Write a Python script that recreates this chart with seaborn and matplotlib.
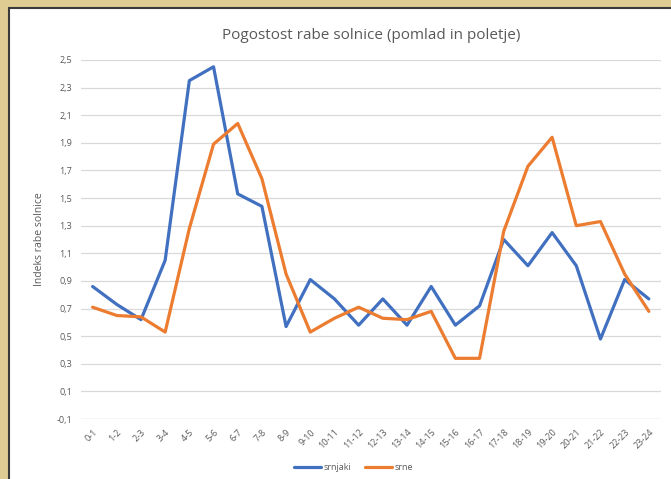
import numpy as np
import pandas as pd
import seaborn as sns
from matplotlib import pyplot as plt
from matplotlib.patches import Rectangle

# data
hours = ['0-1', '1-2', '2-3', '3-4', '4-5', '5-6', '6-7', '7-8', '8-9', '9-10', '10-11', '11-12',
         '12-13', '13-14', '14-15', '15-16', '16-17', '17-18', '18-19', '19-20', '20-21', '21-22',
         '22-23', '23-24']
srnjaki = [0.86, 0.73, 0.62, 1.05, 2.35, 2.45, 1.53, 1.44, 0.57, 0.91, 0.77, 0.58,
           0.77, 0.58, 0.86, 0.58, 0.72, 1.20, 1.01, 1.25, 1.01, 0.48, 0.91, 0.77]
srne = [0.71, 0.65, 0.64, 0.53, 1.28, 1.89, 2.04, 1.64, 0.95, 0.53, 0.63, 0.71,
        0.63, 0.62, 0.68, 0.34, 0.34, 1.26, 1.73, 1.94, 1.30, 1.33, 0.95, 0.68]
series_names = ['srnjaki', 'srne']
y_ticks = [-0.1, 0.1, 0.3, 0.5, 0.7, 0.9, 1.1, 1.3, 1.5, 1.7, 1.9, 2.1, 2.3, 2.5]

df = pd.DataFrame({'ura': hours * 2,
                   'indeks': srnjaki + srne,
                   'serija': [series_names[0]] * len(hours) + [series_names[1]] * len(hours)})

sns.set_theme(style='white')
plt.rcParams['font.family'] = ['Open Sans', 'DejaVu Sans']

fig = plt.figure(figsize=(6.71, 4.79), dpi=100)
fig.patch.set_facecolor('#dfcc92')
# white chart panel with dark frame (runs off the right and bottom edge)
fig.patches.append(Rectangle((0.013, -0.01), 1.0, 0.993, transform=fig.transFigure,
                             facecolor='white', edgecolor='#3a3a3a', linewidth=1.5, zorder=-10))

ax = fig.add_axes([0.12, 0.125, 0.865, 0.75])
ax.set_facecolor('none')
sns.lineplot(data=df, x='ura', y='indeks', hue='serija', palette=['#4170c0', '#ec7c30'],
             linewidth=2.3, sort=False, ax=ax)

ax.set_ylim(-0.1, 2.5)
ax.set_yticks(y_ticks)
ax.set_yticklabels([f'{t:.1f}'.replace('.', ',') for t in y_ticks], fontsize=6.5, color='#595959')
ax.set_xlim(-0.5, len(hours) - 0.5)
ax.set_xticks(range(len(hours)))
ax.set_xticklabels(hours, rotation=45, ha='right', rotation_mode='anchor', fontsize=6.5, color='#595959')
ax.tick_params(axis='both', length=0, pad=6)
ax.grid(axis='y', color='#d9d9d9', linewidth=0.9)
for side in ['top', 'right', 'left', 'bottom']:
    ax.spines[side].set_visible(False)
ax.axhline(-0.1, color='#d9d9d9', linewidth=0.9)
ax.set_xlabel('')
ax.set_ylabel('Indeks rabe solnice', fontsize=7.5, color='#595959', labelpad=8)
ax.set_title('Pogostost rabe solnice (pomlad in poletje)', fontsize=11, color='#595959', pad=15)

ax.legend(loc='upper center', bbox_to_anchor=(0.47, -0.1), ncol=2, frameon=False,
          fontsize=6.5, handlelength=3, handletextpad=0.3, columnspacing=1.5, labelcolor='#595959')

fig.savefig('out.png', dpi=100, facecolor=fig.get_facecolor())
